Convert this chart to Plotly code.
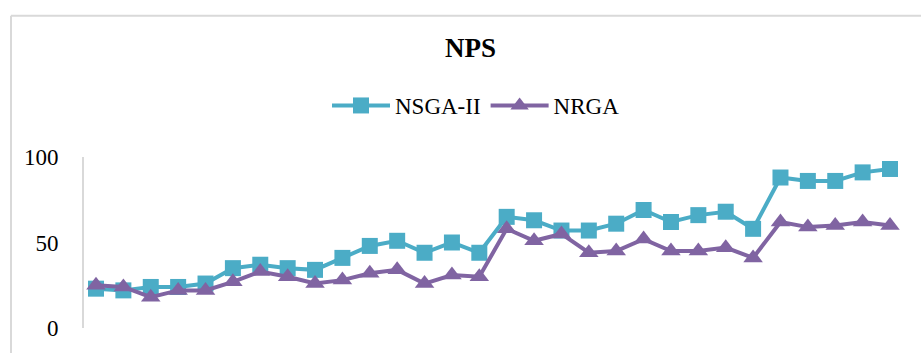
import plotly.graph_objects as go

# Instance numbers (categories) and NPS values of the two algorithms
instances = list(range(1, 31))
nsga_ii = [23, 22, 24, 24, 26, 35, 37, 35, 34, 41, 48, 51, 44, 50, 44,
           65, 63, 57, 57, 61, 69, 62, 66, 68, 58, 88, 86, 86, 91, 93]
nrga = [25, 24, 18, 22, 22, 27, 33, 30, 26, 28, 32, 34, 26, 31, 30,
        58, 51, 55, 44, 45, 52, 45, 45, 47, 41, 62, 59, 60, 62, 60]
y_ticks = [0, 50, 100]

FONT = "Liberation Serif, Times New Roman, serif"
TEAL = "#4BACC6"
PURPLE = "#8064A2"

fig = go.Figure()
fig.add_trace(go.Scatter(
    x=instances, y=nsga_ii, name="NSGA-II", mode="lines+markers",
    line=dict(color=TEAL, width=4),
    marker=dict(symbol="square", size=16, color=TEAL),
    cliponaxis=False,
))
fig.add_trace(go.Scatter(
    x=instances, y=nrga, name="NRGA", mode="lines+markers",
    line=dict(color=PURPLE, width=4),
    marker=dict(symbol="triangle-up", size=17, color=PURPLE),
    cliponaxis=False,
))

# plot area: left 84px, right 902px, top 157px, bottom 333px
L, R, T, B = 84, 902, 157, 333
W, H = 921, 353
pw, ph = R - L, B - T

def px_x(x):
    return (x - L) / pw

def px_y(y):
    return (B - y) / ph

spacing = (890 - 96) / 29
pad = (96 - L) / spacing

fig.update_layout(
    width=W, height=H,
    margin=dict(l=L, r=W - R, t=T, b=H - B),
    paper_bgcolor="white", plot_bgcolor="white",
    font=dict(family=FONT, color="black"),
    title=dict(text="<b>NPS</b>", font=dict(family=FONT, size=27, color="black"),
               x=470.5 / W, xanchor="center", y=1 - 48 / H, yanchor="middle"),
    showlegend=True,
    legend=dict(orientation="h", x=px_x(476), xanchor="center",
                y=px_y(104), yanchor="middle", itemwidth=58,
                font=dict(family=FONT, size=23, color="black"),
                tracegroupgap=0, bgcolor="rgba(0,0,0,0)"),
    xaxis=dict(range=[1 - pad, 30 + pad], showticklabels=False, showgrid=False,
               zeroline=False, showline=False, ticks=""),
    yaxis=dict(range=[0, 100], tickvals=y_ticks, showgrid=False, zeroline=False,
               showline=True, linecolor="#d9d9d9", linewidth=2, ticks="",
               ticklabelstandoff=19,
               tickfont=dict(family=FONT, size=23, color="black")),
    shapes=[
        # chart frame (top and left edges)
        dict(type="line", xref="paper", yref="paper",
             x0=px_x(11), x1=px_x(W + 20), y0=px_y(11.5), y1=px_y(11.5),
             line=dict(color="#d9d9d9", width=2)),
        dict(type="line", xref="paper", yref="paper",
             x0=px_x(11), x1=px_x(11), y0=px_y(11.5), y1=px_y(H + 20),
             line=dict(color="#d9d9d9", width=2)),
    ],
)

fig.write_html("out.html")
